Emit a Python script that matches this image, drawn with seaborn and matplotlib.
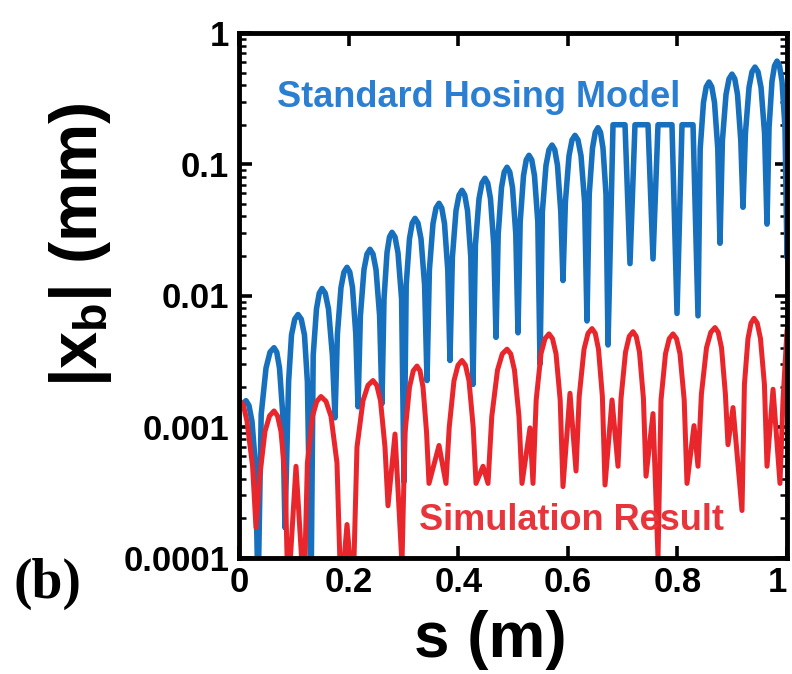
import matplotlib
matplotlib.use("Agg")
import matplotlib.pyplot as plt
import seaborn as sns
from matplotlib.ticker import LogLocator, NullFormatter

# --- data (s in m, |x_b| in mm) ---
blue_s = [0.0, 0.0128, 0.0182, 0.0237, 0.0303, 0.0347,
          0.0405, 0.0493, 0.0566, 0.0639, 0.0689, 0.0739, 0.0799, 0.0839,
          0.0905, 0.0958, 0.1017, 0.1077, 0.1136, 0.1195, 0.1248, 0.1314,
          0.1354, 0.1414, 0.1464, 0.1515, 0.1574, 0.1633, 0.1704, 0.1752,
          0.1796, 0.1861, 0.1916, 0.1971, 0.2021, 0.2071, 0.2131, 0.2172,
          0.2215, 0.2281, 0.2336, 0.2391, 0.2445, 0.2500, 0.2566, 0.2609,
          0.2646, 0.2701, 0.2746, 0.2792, 0.2847, 0.2901, 0.2967, 0.3011,
          0.3051, 0.3111, 0.3161, 0.3212, 0.3266, 0.3321, 0.3387, 0.3431,
          0.3474, 0.3540, 0.3595, 0.3650, 0.3700, 0.3750, 0.3810, 0.3850,
          0.3894, 0.3960, 0.4015, 0.4069, 0.4120, 0.4170, 0.4230, 0.4270,
          0.4314, 0.4380, 0.4434, 0.4489, 0.4539, 0.4589, 0.4650, 0.4690,
          0.4730, 0.4790, 0.4840, 0.4891, 0.4941, 0.4991, 0.5051, 0.5091,
          0.5131, 0.5192, 0.5242, 0.5292, 0.5342, 0.5392, 0.5453, 0.5493,
          0.5536, 0.5602, 0.5657, 0.5712, 0.5762, 0.5812, 0.5872, 0.5912,
          0.5956, 0.6022, 0.6077, 0.6131, 0.6186, 0.6241, 0.6307, 0.6350,
          0.6391, 0.6451, 0.6501, 0.6551, 0.6597, 0.6642, 0.6697, 0.6734,
          0.6825, 0.7044, 0.7135, 0.7226, 0.7464, 0.7555,
          0.7646, 0.7901, 0.7993, 0.8084, 0.8285, 0.8376,
          0.8416, 0.8476, 0.8526, 0.8577, 0.8627, 0.8677, 0.8737, 0.8777,
          0.8821, 0.8887, 0.8942, 0.8996, 0.9047, 0.9097, 0.9157, 0.9197,
          0.9241, 0.9307, 0.9361, 0.9416, 0.9471, 0.9526, 0.9591, 0.9635,
          0.9672, 0.9726, 0.9772, 0.9818, 0.9863, 0.9909, 0.9964, 1.0, 1.004]
blue_v = [0.0014, 0.00158, 0.00145, 0.0011, 0.00049, 5e-5,
          0.00124, 0.0028, 0.0037, 0.0040, 0.0037, 0.0028, 0.00124, 0.00017,
          0.0022, 0.0050, 0.0066, 0.00716, 0.0066, 0.0050, 0.0022, 5e-5,
          0.0035, 0.0079, 0.0104, 0.0113, 0.0104, 0.0079, 0.0035, 0.00117,
          0.0051, 0.0115, 0.0151, 0.0164, 0.0151, 0.0115, 0.0051, 0.00142,
          0.0070, 0.0158, 0.0207, 0.0225, 0.0207, 0.0158, 0.0070, 0.0015,
          0.0094, 0.0212, 0.0279, 0.0303, 0.0279, 0.0212, 0.0094, 0.00038,
          0.0120, 0.0271, 0.0356, 0.0387, 0.0356, 0.0271, 0.0120, 0.00225,
          0.0156, 0.0353, 0.0464, 0.0504, 0.0464, 0.0353, 0.0156, 0.0032,
          0.0196, 0.0443, 0.0582, 0.0633, 0.0582, 0.0443, 0.0196, 0.0021,
          0.0242, 0.0547, 0.0719, 0.0782, 0.0719, 0.0547, 0.0242, 0.0048,
          0.0294, 0.0664, 0.0873, 0.0949, 0.0873, 0.0664, 0.0294, 0.0052,
          0.0363, 0.082, 0.108, 0.117, 0.108, 0.082, 0.0363, 0.0030,
          0.0434, 0.098, 0.129, 0.140, 0.129, 0.098, 0.0434, 0.013,
          0.0515, 0.116, 0.153, 0.166, 0.153, 0.116, 0.0515, 0.0064,
          0.059, 0.133, 0.175, 0.19, 0.175, 0.133, 0.059, 0.0042,
          0.2, 0.2, 0.0175, 0.2, 0.2, 0.019,
          0.2, 0.2, 0.0073, 0.2, 0.2, 0.0070,
          0.131, 0.296, 0.389, 0.423, 0.389, 0.296, 0.131, 0.025,
          0.151, 0.340, 0.447, 0.486, 0.447, 0.340, 0.151, 0.047,
          0.171, 0.385, 0.506, 0.550, 0.506, 0.385, 0.171, 0.035,
          0.189, 0.428, 0.562, 0.611, 0.562, 0.428, 0.189, 0.0195, 0.09]

red_s = [0.0, 0.0078, 0.0146, 0.0248, 0.0310,
         0.0376, 0.0474, 0.0557, 0.0639, 0.0703, 0.0766, 0.0843, 0.0894,
         0.1040, 0.1186,
         0.1248, 0.1341, 0.1419, 0.1496, 0.1588, 0.1679, 0.1788, 0.1861,
         0.1971, 0.2080,
         0.2153, 0.2263, 0.2354, 0.2445, 0.2514, 0.2582, 0.2664, 0.2719,
         0.2847, 0.2974,
         0.3029, 0.3111, 0.3180, 0.3248, 0.3303, 0.3358, 0.3423, 0.3467,
         0.3650, 0.3777,
         0.3836, 0.3923, 0.3996, 0.4069, 0.4133, 0.4197, 0.4274, 0.4325,
         0.4453, 0.4544,
         0.4613, 0.4717, 0.4804, 0.4891, 0.4959, 0.5027, 0.5109, 0.5164,
         0.5310, 0.5365,
         0.5423, 0.5511, 0.5584, 0.5657, 0.5721, 0.5785, 0.5861, 0.5912,
         0.6040, 0.6150,
         0.6208, 0.6296, 0.6369, 0.6442, 0.6501, 0.6560, 0.6631, 0.6679,
         0.6807, 0.6916,
         0.6971, 0.7053, 0.7121, 0.7190, 0.7249, 0.7308, 0.7380, 0.7427,
         0.7555, 0.7646,
         0.7701, 0.7783, 0.7851, 0.7920, 0.7984, 0.8047, 0.8124, 0.8175,
         0.8303, 0.8376,
         0.8438, 0.8531, 0.8609, 0.8686, 0.8745, 0.8805, 0.8876, 0.8923,
         0.9015, 0.9179,
         0.9223, 0.9288, 0.9343, 0.9398, 0.9457, 0.9516, 0.9588, 0.9635,
         0.9745, 0.9872,
         0.9927, 1.0, 1.004]
red_v = [0.0016, 0.00147, 0.0011, 0.0005, 0.00017,
         0.00041, 0.00092, 0.00121, 0.00132, 0.00121, 0.00092, 0.00041, 5e-5,
         0.0005, 5e-5,
         0.00053, 0.0012, 0.00156, 0.0017, 0.00156, 0.0012, 0.00053, 5e-5,
         0.00018, 5e-5,
         0.0007, 0.00158, 0.00207, 0.00225, 0.00207, 0.00158, 0.0007, 0.00025,
         0.00088, 9e-5,
         0.0009, 0.0020, 0.00267, 0.0029, 0.00267, 0.0020, 0.0009, 0.00037,
         0.00072, 0.00037,
         0.00099, 0.00224, 0.00294, 0.0032, 0.00294, 0.00224, 0.00099, 0.00037,
         0.0005, 0.00037,
         0.0012, 0.0027, 0.00359, 0.0039, 0.00359, 0.0027, 0.0012, 0.00037,
         0.00098, 0.00037,
         0.0016, 0.0036, 0.00469, 0.0051, 0.00469, 0.0036, 0.0016, 0.00035,
         0.0018, 0.00046,
         0.0017, 0.0039, 0.00515, 0.0056, 0.00515, 0.0039, 0.0017, 0.00036,
         0.0016, 0.0005,
         0.00164, 0.0037, 0.00488, 0.0053, 0.00488, 0.0037, 0.00164, 0.00042,
         0.00126, 0.0001,
         0.0016, 0.0036, 0.00469, 0.0051, 0.00469, 0.0036, 0.0016, 0.00037,
         0.00102, 0.0005,
         0.00177, 0.004, 0.00524, 0.0057, 0.00524, 0.004, 0.00177, 0.00073,
         0.0014, 0.00023,
         0.0021, 0.0047, 0.00616, 0.0067, 0.00616, 0.0047, 0.0021, 0.0005,
         0.00193, 0.00037,
         0.0016, 0.0054, 0.0065]

x_ticks = [0, 0.2, 0.4, 0.6, 0.8, 1.0]
x_tick_labels = ["0", "0.2", "0.4", "0.6", "0.8", "1"]
y_ticks = [1e-4, 1e-3, 1e-2, 1e-1, 1]
y_tick_labels = ["0.0001", "0.001", "0.01", "0.1", "1"]

BLUE = "#1770bd"
RED = "#e8262c"

sns.set_theme(style="ticks")
plt.rcParams["font.family"] = ["Liberation Sans", "DejaVu Sans"]
plt.rcParams["text.color"] = "black"
plt.rcParams["mathtext.fontset"] = "custom"
plt.rcParams["mathtext.rm"] = "Liberation Sans:bold"
plt.rcParams["mathtext.it"] = "Liberation Sans:bold"
plt.rcParams["mathtext.bf"] = "Liberation Sans:bold"

fig = plt.figure(figsize=(7.92, 6.74), dpi=100)
ax = fig.add_axes([239 / 792, 1 - 558 / 674, 548 / 792, 525 / 674])

sns.lineplot(x=blue_s, y=blue_v, sort=False, estimator=None, ax=ax,
             color=BLUE, lw=4.0, solid_joinstyle="round")
sns.lineplot(x=red_s, y=red_v, sort=False, estimator=None, ax=ax,
             color=RED, lw=3.6, solid_joinstyle="round")

ax.set_yscale("log")
ax.set_xlim(0, 1)
ax.set_ylim(1e-4, 1)

ax.set_xticks(x_ticks)
ax.set_xticklabels(x_tick_labels, fontsize=25, fontweight="bold")
ax.set_yticks(y_ticks)
ax.set_yticklabels(y_tick_labels, fontsize=25, fontweight="bold")
ax.yaxis.set_minor_locator(LogLocator(base=10, subs=range(2, 10)))
ax.yaxis.set_minor_formatter(NullFormatter())
# keep the last x label inside the canvas
ax.get_xticklabels()[-1].set_horizontalalignment("right")

ax.tick_params(which="both", direction="in", top=True, right=True, colors="black")
ax.tick_params(which="major", length=9, width=2.6)
ax.tick_params(which="minor", length=5, width=1.8)
ax.tick_params(axis="y", which="major", pad=7)
ax.tick_params(axis="x", which="major", pad=6)
for sp in ax.spines.values():
    sp.set_linewidth(3.5)
    sp.set_color("black")

ax.set_xlabel("")
ax.set_ylabel("")
fig.text(490 / 792, 1 - 640 / 674, "s (m)", ha="center", va="center",
         fontsize=46, fontweight="bold", color="black")
fig.text(80 / 792, 1 - 245 / 674, r"$|x_b|$ (mm)", ha="center", va="center",
         rotation=90, fontsize=48, fontweight="bold", color="black")
fig.text(14 / 792, 1 - 584 / 674, "(b)", ha="left", va="center", color="black",
         fontsize=40, fontweight="bold", family=["Liberation Serif", "DejaVu Serif"])

ax.text(0.438, 0.859, "Standard Hosing Model", transform=ax.transAxes,
        ha="center", va="baseline", fontsize=26, fontweight="bold", color="#2a7fd2")
ax.text(0.607, 0.053, "Simulation Result", transform=ax.transAxes,
        ha="center", va="baseline", fontsize=26, fontweight="bold", color="#e8353b")

fig.savefig("out.png", dpi=100, facecolor="white")
plt.close(fig)
